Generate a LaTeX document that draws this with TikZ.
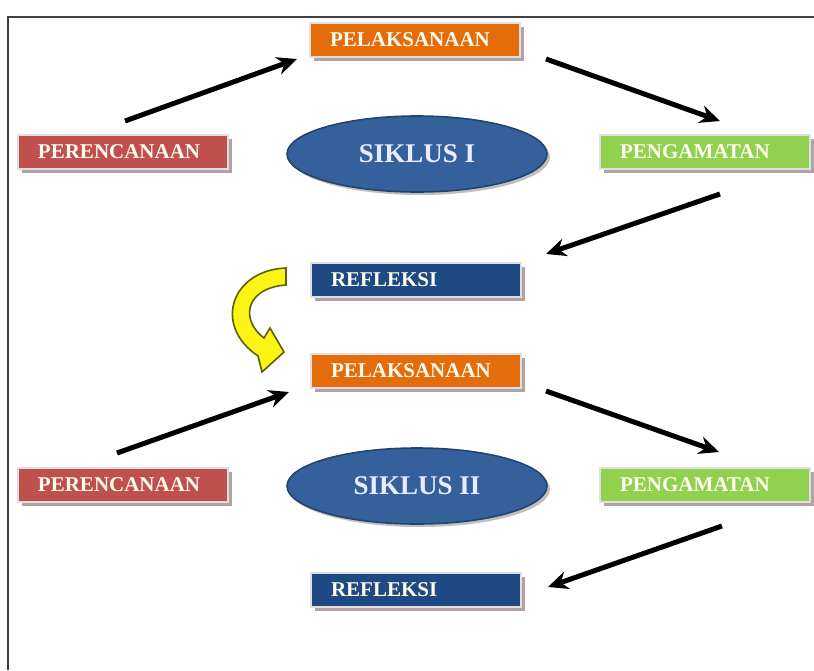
\documentclass[tikz,border=0pt]{standalone}
\usepackage{fontspec}
\setmainfont{Liberation Serif}
\usetikzlibrary{positioning,shapes.geometric,shadows,arrows.meta}

\definecolor{arancio}{RGB}{228,108,10}
\definecolor{rosso}{RGB}{192,80,77}
\definecolor{verde}{RGB}{146,208,80}
\definecolor{blu}{RGB}{31,73,130}
\definecolor{bluciclo}{RGB}{52,97,155}
\definecolor{ombra}{RGB}{178,162,166}
\definecolor{giallo}{RGB}{250,245,20}
\definecolor{oliva}{RGB}{95,95,10}

\tikzset{
  fase/.style={rectangle, draw=white!88!black, line width=1pt,
    minimum width=105pt, minimum height=17pt, inner xsep=10pt, inner ysep=0pt,
    text width=85pt, align=left, text=white!94!yellow,
    font=\fontsize{10.5}{12}\selectfont\bfseries,
    drop shadow={shadow xshift=2pt, shadow yshift=-2pt, fill=ombra, opacity=1}},
  ciclo/.style={ellipse, draw=bluciclo!70!black, line width=0.8pt, fill=bluciclo,
    minimum width=130pt, minimum height=38pt, inner sep=0pt, text=white!92!blue,
    font=\fontsize{13.5}{15}\selectfont\bfseries,
    drop shadow={shadow xshift=1.5pt, shadow yshift=-1.5pt, fill=black, opacity=0.25}},
  freccia/.style={-{Stealth[length=10pt,width=9pt]}, line width=2.5pt, black}
}

\begin{document}
\begin{tikzpicture}[x=0.5pt, y=-0.5pt]
      \useasboundingbox (0,0) rectangle (814,670);
      % Cornice
      \draw[line width=1.2pt, black!75] (814,17) -- (8,17) -- (8,670);

      % Primo ciclo
      \node[fase, fill=arancio] (pel1) at (415,40) {PELAKSANAAN};
      \node[fase, fill=rosso] (per1) at (123,152) {PERENCANAAN};
      \node[fase, fill=verde] (pen1) at (705,152) {PENGAMATAN};
      \node[fase, fill=blu] (ref1) at (416,280) {REFLEKSI};
      \node[ciclo] (sik1) at (417,154) {SIKLUS I};

      % Secondo ciclo
      \node[fase, fill=arancio] (pel2) at (416,371) {PELAKSANAAN};
      \node[fase, fill=rosso] (per2) at (123,485) {PERENCANAAN};
      \node[fase, fill=verde] (pen2) at (705,485) {PENGAMATAN};
      \node[fase, fill=blu] (ref2) at (416,590) {REFLEKSI};
      \node[ciclo] (sik2) at (417,486) {SIKLUS II};

      % Frecce
      \draw[freccia] ([shift={(2,-13)}]per1.north) -- ([shift={(-12,1)}]pel1.south west);
      \draw[freccia] ([shift={(25,1)}]pel1.south east) -- ([shift={(15,-13)}]pen1.north);
      \draw[freccia] ([shift={(15,24)}]pen1.south) -- ([shift={(24,-8)}]ref1.north east);
      \draw[freccia] ([shift={(-6,-14)}]per2.north) -- ([shift={(-21,3)}]pel2.south west);
      \draw[freccia] ([shift={(24,2)}]pel2.south east) -- ([shift={(14,-15)}]pen2.north);
      \draw[freccia] ([shift={(17,23)}]pen2.south) -- ([shift={(26,15)}]ref2.north east);

      % Freccia gialla tra i cicli
      \draw[fill=giallo, draw=oliva, line width=0.8pt]
        (286,268) .. controls (232,270) and (212,325) .. (258,356)
        -- (262,372) -- (284,352) -- (270,328) -- (264,338)
        .. controls (240,320) and (245,288) .. (286,285) -- cycle;
\end{tikzpicture}
\end{document}
